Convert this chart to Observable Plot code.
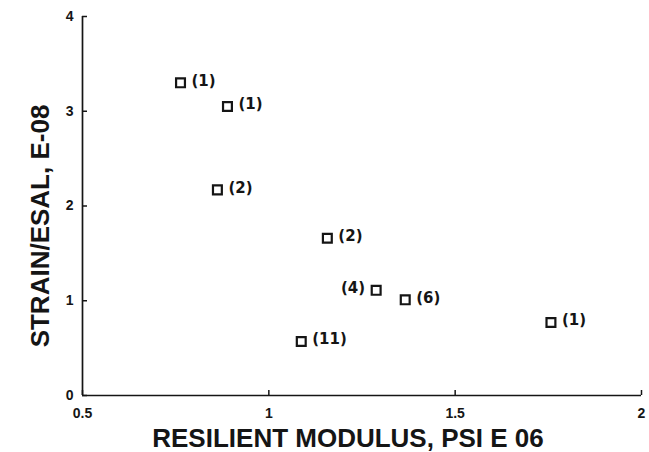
<!DOCTYPE html>
<html>
<head>
<meta charset="utf-8">
<script src="https://cdn.jsdelivr.net/npm/d3@7"></script>
<script src="https://cdn.jsdelivr.net/npm/@observablehq/plot@0.6"></script>
<style>
  html, body { margin: 0; padding: 0; background: #fff; }
</style>
</head>
<body>
<div id="chart"></div>
<script>
const modulus = [0.763, 0.889, 0.862, 1.157, 1.288, 1.366, 1.087, 1.757];
const strain  = [3.30, 3.05, 2.17, 1.66, 1.11, 1.01, 0.57, 0.77];
const counts  = ["(1)", "(1)", "(2)", "(2)", "(4)", "(6)", "(11)", "(1)"];
const labelSide = ["right", "right", "right", "right", "left", "right", "right", "right"];
const xTicks = [0.5, 1, 1.5, 2];
const yTicks = [0, 1, 2, 3, 4];
const xTitle = "RESILIENT MODULUS, PSI E 06";
const yTitle = "STRAIN/ESAL, E-08";

const data = modulus.map((m, i) => ({x: m, y: strain[i], label: counts[i], side: labelSide[i]}));
const ink = "#151515";
const W = 649, H = 452, ML = 82, MR = 8, MT = 16, MB = 57;
const labelFont = "DejaVu Sans, Verdana, sans-serif";

const chart = Plot.plot({
  width: W,
  height: H,
  marginLeft: ML,
  marginRight: MR,
  marginTop: MT,
  marginBottom: MB,
  style: {fontFamily: "Liberation Sans, Arial, sans-serif", color: ink, background: "#fff"},
  x: {domain: [0.5, 2], axis: null},
  y: {domain: [0, 4], axis: null},
  marks: [
    Plot.ruleY([0], {stroke: ink, strokeWidth: 1.7}),
    Plot.ruleX([0.5], {stroke: ink, strokeWidth: 1.7}),
    Plot.tickX(xTicks, {x: d => d, insetTop: (H - MT - MB) - 5, stroke: ink, strokeWidth: 1.5}),
    Plot.tickY(yTicks, {y: d => d, insetRight: (W - ML - MR) - 5, stroke: ink, strokeWidth: 1.5}),
    Plot.text(xTicks, {x: d => d, frameAnchor: "bottom", lineAnchor: "middle", textAnchor: "middle", text: d => String(d),
      dy: 18, fontSize: 14, fontWeight: "bold", fill: ink}),
    Plot.text(yTicks, {y: d => d, frameAnchor: "left", lineAnchor: "middle", textAnchor: "end", text: d => String(d),
      dx: -9, fontSize: 14, fontWeight: "bold", fill: ink}),
    Plot.dot(data, {x: "x", y: "y", symbol: "square", r: 5, stroke: ink, strokeWidth: 2.2, fill: "none"}),
    Plot.text(data.filter(d => d.side === "right"), {x: "x", y: "y", text: "label", textAnchor: "start", dx: 11, dy: -2,
      fontFamily: labelFont, fontWeight: "bold", fontSize: 15, fill: ink}),
    Plot.text(data.filter(d => d.side === "left"), {x: "x", y: "y", text: "label", textAnchor: "end", dx: -11, dy: -2,
      fontFamily: labelFont, fontWeight: "bold", fontSize: 15, fill: ink}),
    Plot.text([xTitle], {frameAnchor: "bottom", textAnchor: "middle", lineAnchor: "middle", text: d => d,
      dx: -14, dy: 43, fontSize: 26, fontWeight: 600, fill: ink}),
    Plot.text([yTitle], {frameAnchor: "left", textAnchor: "middle", lineAnchor: "middle", text: d => d, rotate: -90,
      dx: -42, dy: 20, fontSize: 26, fontWeight: 600, fill: ink, style: "letter-spacing: 1.5px"})
  ]
});
document.getElementById("chart").appendChild(chart);
</script>
</body>
</html>
